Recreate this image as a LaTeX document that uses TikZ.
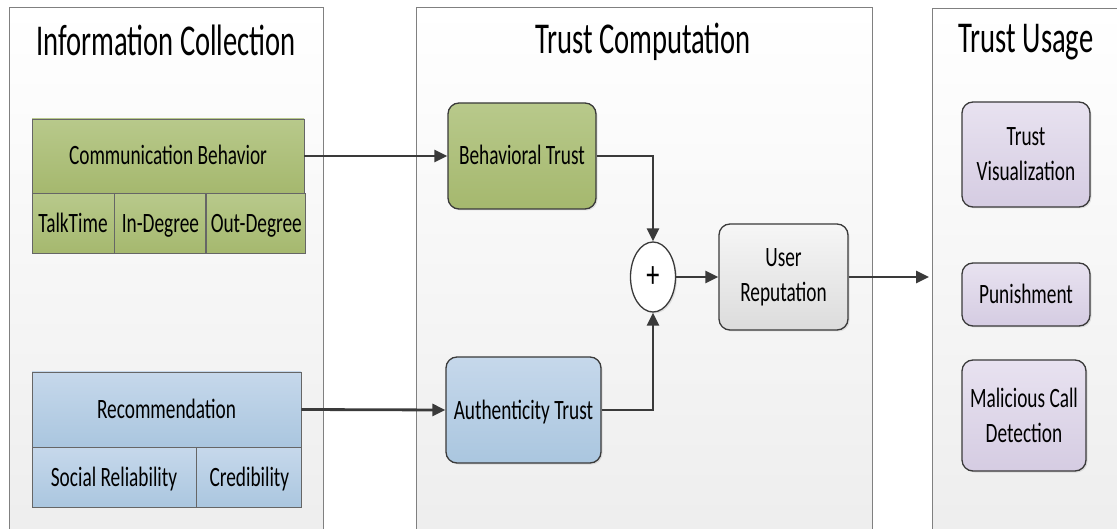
\documentclass[tikz,border=0pt]{standalone}
\usepackage{fontspec}
\setmainfont{Carlito}[FakeStretch=0.69]
\newfontfamily\headfont{Carlito}[FakeStretch=0.65]
\usepackage{tikz}
\usetikzlibrary{arrows.meta}
\usetikzlibrary{positioning}
\usetikzlibrary{shapes.geometric}
\usetikzlibrary{shadows}

\definecolor{framegray}{HTML}{808080}
\definecolor{linegray}{HTML}{3A3A3A}
\definecolor{greentop}{HTML}{B8C98B}
\definecolor{greenbot}{HTML}{A5B86E}
\definecolor{bluetop}{HTML}{C6D8EB}
\definecolor{bluebot}{HTML}{AAC6DF}
\definecolor{purptop}{HTML}{E8E2F0}
\definecolor{purpbot}{HTML}{D5CCE2}
\definecolor{greytop}{HTML}{F6F6F6}
\definecolor{greybot}{HTML}{DCDCDC}

\begin{document}
\begin{tikzpicture}[x=1pt, y=-1pt,
        panel/.style={draw=framegray, line width=1pt, top color=white, bottom color=black!7},
        heading/.style={font=\headfont\fontsize{44}{48}\selectfont},
        txt/.style={font=\fontsize{28}{35}\selectfont, align=center, inner sep=0pt},
        oneline/.style={text height=18pt, text depth=0pt},
        cell/.style={txt, oneline, draw=black!60, line width=0.9pt, rectangle},
        greencell/.style={cell, top color=greentop, bottom color=greenbot},
        bluecell/.style={cell, top color=bluetop, bottom color=bluebot},
        rbox/.style={txt, draw=linegray, line width=1.3pt, rounded corners=11pt,
            drop shadow={opacity=0.2, shadow xshift=1.5pt, shadow yshift=-1.5pt}},
        arr/.style={draw=linegray, line width=2.8pt, -{Triangle[length=13pt, width=12pt]}}
    ]
        \useasboundingbox (0, 0) rectangle (1117, 529);

        % the three stages
        \draw[panel] (9, 8) rectangle (323, 545);
        \draw[panel] (416, 8) rectangle (872, 545);
        \draw[panel] (932, 9) rectangle (1130, 545);
        \node[heading] (infotitle) at (166, 40) {Information Collection};
        \node[heading] (comptitle) at (643, 42) {Trust Computation};
        \node[heading] (usetitle) at (1026, 42) {Trust Usage};

        % information collection
        \node[greencell, minimum width=272, minimum height=74] (comm) at (168, 156)
            {Communication Behavior};
        \node[greencell, minimum width=82, minimum height=60, anchor=north west] (talk)
            at (comm.south west) {TalkTime};
        \node[greencell, minimum width=91, minimum height=60, right=0 of talk] (indeg)
            {In-Degree};
        \node[greencell, minimum width=99, minimum height=60, right=0 of indeg] (outdeg)
            {Out-Degree};

        \node[bluecell, minimum width=269, minimum height=75] (rec) at (166.5, 409.5)
            {Recommendation};
        \node[bluecell, minimum width=164, minimum height=60, anchor=north west] (social)
            at (rec.south west) {Social Reliability};
        \node[bluecell, minimum width=105, minimum height=60, right=0 of social] (cred)
            {Credibility};

        % trust computation
        \node[rbox, oneline, top color=greentop, bottom color=greenbot,
            minimum width=148, minimum height=106] (behav) at (522, 156) {Behavioral Trust};
        \node[rbox, oneline, top color=bluetop, bottom color=bluebot,
            minimum width=155, minimum height=106] (auth) at (523.5, 410) {Authenticity Trust};
        \node[ellipse, draw=linegray, line width=1.3pt, fill=white, inner sep=0pt,
            minimum width=45, minimum height=70, font=\fontsize{38}{40}\selectfont,
            drop shadow={opacity=0.2, shadow xshift=1.5pt, shadow yshift=-1.5pt}]
            (plus) at (653, 277) {+};
        \node[rbox, top color=greytop, bottom color=greybot,
            minimum width=129, minimum height=106] (rep) at (783.5, 277) {User\\Reputation};

        % trust usage
        \node[rbox, top color=purptop, bottom color=purpbot,
            minimum width=128, minimum height=105] (vis) at (1026, 154.5) {Trust\\Visualization};
        \node[rbox, oneline, top color=purptop, bottom color=purpbot,
            minimum width=128, minimum height=63] (punish) at (1026, 294.5) {Punishment};
        \node[rbox, top color=purptop, bottom color=purpbot,
            minimum width=124, minimum height=111] (detect) at (1024, 415.5) {Malicious Call\\Detection};
        \coordinate (usage) at (929, 277);

        \draw[arr] (comm.east) -- (behav.west);
        \draw[arr] (rec.east) -- (auth.west);
        \draw[arr] (behav.east) -| (plus.north);
        \draw[arr] (auth.east) -| (plus.south);
        \draw[arr] (plus.east) -- (rep.west);
        \draw[arr] (rep.east) -- (usage);
    \end{tikzpicture}
\end{document}
